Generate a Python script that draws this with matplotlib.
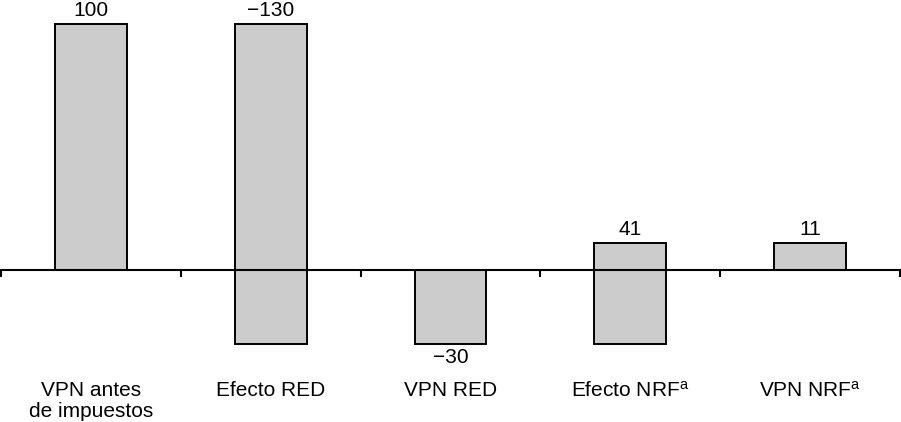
import matplotlib
matplotlib.use("Agg")
import matplotlib.pyplot as plt
import numpy as np

plt.rcParams['font.family'] = ['Liberation Sans', 'DejaVu Sans']
plt.rcParams['mathtext.fontset'] = 'custom'
plt.rcParams['mathtext.rm'] = 'Liberation Sans'
plt.rcParams['mathtext.it'] = 'Liberation Sans'

categories = ["VPN antes\nde impuestos", "Efecto RED", "VPN RED",
              "Efecto NRF$^{\\mathrm{a}}$", "VPN NRF$^{\\mathrm{a}}$"]
values = [100, -130, -30, 41, 11]
is_total = [True, False, True, False, True]

# waterfall: totals start at zero, effects start at the running total
bottoms = []
running = 0
for v, tot in zip(values, is_total):
    if tot:
        bottoms.append(0)
        running = v
    else:
        bottoms.append(running)
        running += v
bottoms = np.array(bottoms)
vals = np.array(values)
x = np.arange(len(categories))

fig = plt.figure(figsize=(9.01, 4.22), dpi=100)
ax = fig.add_axes([1 / 901, 0, 899 / 901, 1])
ax.bar(x, vals, bottom=bottoms, width=0.4, color="#cccccc",
       edgecolor="black", linewidth=1.4, zorder=2)

ax.set_xlim(-0.5, 4.5)
ax.set_ylim(-61.8, 109.8)

for s in ("top", "right", "left"):
    ax.spines[s].set_visible(False)
ax.spines["bottom"].set_position(("data", 0))
ax.spines["bottom"].set_linewidth(1.5)
ax.spines["bottom"].set_zorder(3)
ax.set_xticks(np.arange(-0.5, 5, 1))
ax.set_xticklabels([])
ax.tick_params(axis="x", direction="out", length=5, width=1.5)
ax.set_yticks([])

fs = 15
for xi, v, b in zip(x, vals, bottoms):
    label = f"{v}".replace("-", "\u2212")
    if v < 0 and b == 0:
        ax.annotate(label, (xi, b + v), xytext=(0, -3), textcoords="offset points",
                    ha="center", va="top", fontsize=fs)
    else:
        ax.annotate(label, (xi, max(b, b + v)), xytext=(0, 3), textcoords="offset points",
                    ha="center", va="bottom", fontsize=fs)

for xi, c in zip(x, categories):
    ax.text(xi, -45.2, c, ha="center", va="top", fontsize=fs, linespacing=1.1)

fig.savefig("out.png", dpi=100)
